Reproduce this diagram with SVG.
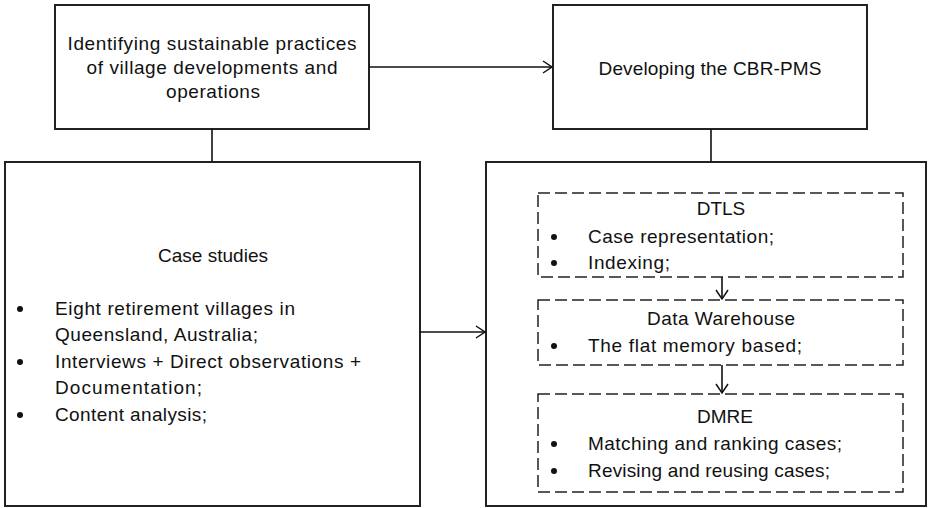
<svg xmlns="http://www.w3.org/2000/svg" width="937" height="508" viewBox="0 0 937 508">
<style>
  .box { fill: #fff; stroke: #222; stroke-width: 2; }
  .dash { fill: none; stroke: #222; stroke-width: 1.5; stroke-dasharray: 12 5; }
  .conn { fill: none; stroke: #111; stroke-width: 1.6; }
  text { font-family: "Liberation Sans", Arial, sans-serif; font-size: 19px; fill: #111; }
  .c { text-anchor: middle; }
  .dot { fill: #111; }
</style>
<defs>
  <marker id="arr" markerWidth="12" markerHeight="14" refX="10" refY="7" orient="auto" markerUnits="userSpaceOnUse">
    <path d="M1,1 L10,7 L1,13" fill="none" stroke="#111" stroke-width="1.5"/>
  </marker>
</defs>
<rect width="937" height="508" fill="#fff"/>
<g id="identifying">
  <rect class="box" x="55" y="5" width="314" height="124"/>
  <text class="c" x="212" y="50" textLength="289" lengthAdjust="spacing">Identifying sustainable practices</text>
  <text class="c" x="212" y="74" textLength="251" lengthAdjust="spacing">of village developments and</text>
  <text class="c" x="213" y="98" textLength="94" lengthAdjust="spacing">operations</text>
</g>
<g id="developing">
  <rect class="box" x="553" y="5" width="314" height="124"/>
  <text class="c" x="710" y="75" textLength="223" lengthAdjust="spacing">Developing the CBR-PMS</text>
</g>
<g id="case-studies">
  <rect class="box" x="5" y="162" width="415" height="344"/>
  <text class="c" x="213" y="262" textLength="110" lengthAdjust="spacing">Case studies</text>
  <circle class="dot" cx="20" cy="309" r="3"/>
  <text x="55" y="315" textLength="240" lengthAdjust="spacing">Eight retirement villages in</text>
  <text x="55" y="341" textLength="203" lengthAdjust="spacing">Queensland, Australia;</text>
  <circle class="dot" cx="20" cy="362" r="3"/>
  <text x="55" y="368" textLength="306" lengthAdjust="spacing">Interviews + Direct observations +</text>
  <text x="55" y="394" textLength="147" lengthAdjust="spacing">Documentation;</text>
  <circle class="dot" cx="20" cy="415" r="3"/>
  <text x="55" y="421" textLength="152" lengthAdjust="spacing">Content analysis;</text>
</g>
<g id="cbr-pms">
  <rect class="box" x="486" y="162" width="440" height="344"/>
</g>
<g id="dtls">
  <rect class="dash" x="538" y="193" width="365" height="84"/>
  <text class="c" x="721" y="215">DTLS</text>
  <circle class="dot" cx="554" cy="237" r="3"/>
  <text x="588" y="243" textLength="186" lengthAdjust="spacing">Case representation;</text>
  <circle class="dot" cx="554" cy="263" r="3"/>
  <text x="588" y="269" textLength="82" lengthAdjust="spacing">Indexing;</text>
</g>
<g id="data-warehouse">
  <rect class="dash" x="538" y="300" width="365" height="65"/>
  <text class="c" x="721" y="325" textLength="148" lengthAdjust="spacing">Data Warehouse</text>
  <circle class="dot" cx="554" cy="346" r="3"/>
  <text x="588" y="352" textLength="214" lengthAdjust="spacing">The flat memory based;</text>
</g>
<g id="dmre">
  <rect class="dash" x="538" y="394" width="365" height="98"/>
  <text class="c" x="725" y="423">DMRE</text>
  <circle class="dot" cx="554" cy="444" r="3"/>
  <text x="588" y="450" textLength="254" lengthAdjust="spacing">Matching and ranking cases;</text>
  <circle class="dot" cx="554" cy="471" r="3"/>
  <text x="588" y="477" textLength="242" lengthAdjust="spacing">Revising and reusing cases;</text>
</g>
<g id="connectors">
  <line class="conn" x1="369" y1="67" x2="552" y2="67" marker-end="url(#arr)"/>
  <line class="conn" x1="212" y1="129" x2="212" y2="162"/>
  <line class="conn" x1="711" y1="129" x2="711" y2="162"/>
  <line class="conn" x1="420" y1="332" x2="485" y2="332" marker-end="url(#arr)"/>
  <line class="conn" x1="722" y1="277" x2="722" y2="299" marker-end="url(#arr)"/>
  <line class="conn" x1="722" y1="365" x2="722" y2="393" marker-end="url(#arr)"/>
</g>
</svg>
